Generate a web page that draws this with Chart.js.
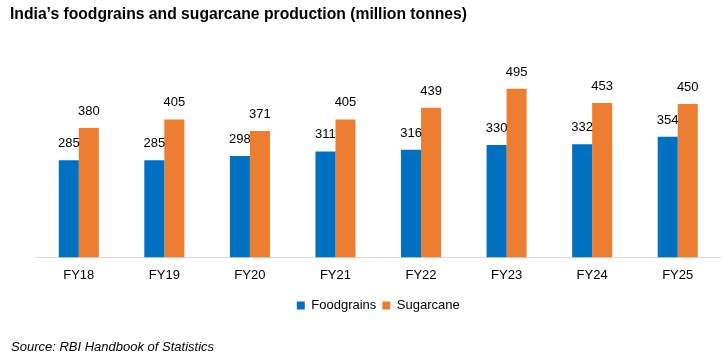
<!DOCTYPE html>
<html>
<head>
<meta charset="utf-8">
<script src="https://cdn.jsdelivr.net/npm/chart.js@4/dist/chart.umd.min.js"></script>
<style>
  html, body { margin: 0; padding: 0; background: #fff; }
  #wrap { position: relative; width: 728px; height: 364px; font-family: "Liberation Sans", Arial, sans-serif; }
  #chart { position: absolute; left: 0; top: 0; }
  .title { position: absolute; left: 10px; top: 5px; font-size: 15.7px; font-weight: bold; color: #000; white-space: nowrap; }
  .source { position: absolute; left: 11px; top: 339px; font-size: 13px; font-style: italic; color: #000; white-space: nowrap; }
</style>
</head>
<body>
<div id="wrap">
  <canvas id="chart" width="728" height="364"></canvas>
  <div class="title">India’s foodgrains and sugarcane production (million tonnes)</div>
  <div class="source">Source: RBI Handbook of Statistics</div>
</div>
<script>
// values
const years = ['FY18', 'FY19', 'FY20', 'FY21', 'FY22', 'FY23', 'FY24', 'FY25'];
const foodgrains = [285, 285, 298, 311, 316, 330, 332, 354];
const sugarcane = [380, 405, 371, 405, 439, 495, 453, 450];

// draw the value above each bar
const barLabels = {
  id: 'barLabels',
  afterDatasetsDraw(chart) {
    const ctx = chart.ctx;
    ctx.save();
    ctx.font = '13px "Liberation Sans", Arial, sans-serif';
    ctx.fillStyle = '#000';
    ctx.textAlign = 'center';
    ctx.textBaseline = 'alphabetic';
    chart.data.datasets.forEach((ds, i) => {
      chart.getDatasetMeta(i).data.forEach((bar, j) => {
        ctx.fillText(ds.data[j], bar.x, bar.y - 13);
      });
    });
    ctx.restore();
  }
};

new Chart(document.getElementById('chart').getContext('2d'), {
  type: 'bar',
  data: {
    labels: years,
    datasets: [
      { label: 'Foodgrains', data: foodgrains, backgroundColor: '#0070C0' },
      { label: 'Sugarcane', data: sugarcane, backgroundColor: '#ED7D31' }
    ]
  },
  options: {
    responsive: false,
    animation: false,
    layout: { padding: { left: 36, right: 7.5, top: 53, bottom: 42 } },
    datasets: { bar: { categoryPercentage: 0.468, barPercentage: 1 } },
    plugins: {
      legend: {
        position: 'bottom',
        labels: {
          boxWidth: 8, boxHeight: 8, padding: 6,
          color: '#000',
          font: { family: '"Liberation Sans", Arial, sans-serif', size: 13 }
        }
      },
      tooltip: { enabled: false }
    },
    scales: {
      x: {
        grid: { display: false, drawTicks: false },
        border: { display: true, color: '#d9d9d9', width: 1 },
        ticks: {
          padding: 10, color: '#000',
          font: { family: '"Liberation Sans", Arial, sans-serif', size: 13 }
        }
      },
      y: { display: false, min: 0, max: 600 }
    }
  },
  plugins: [barLabels]
});
</script>
</body>
</html>
